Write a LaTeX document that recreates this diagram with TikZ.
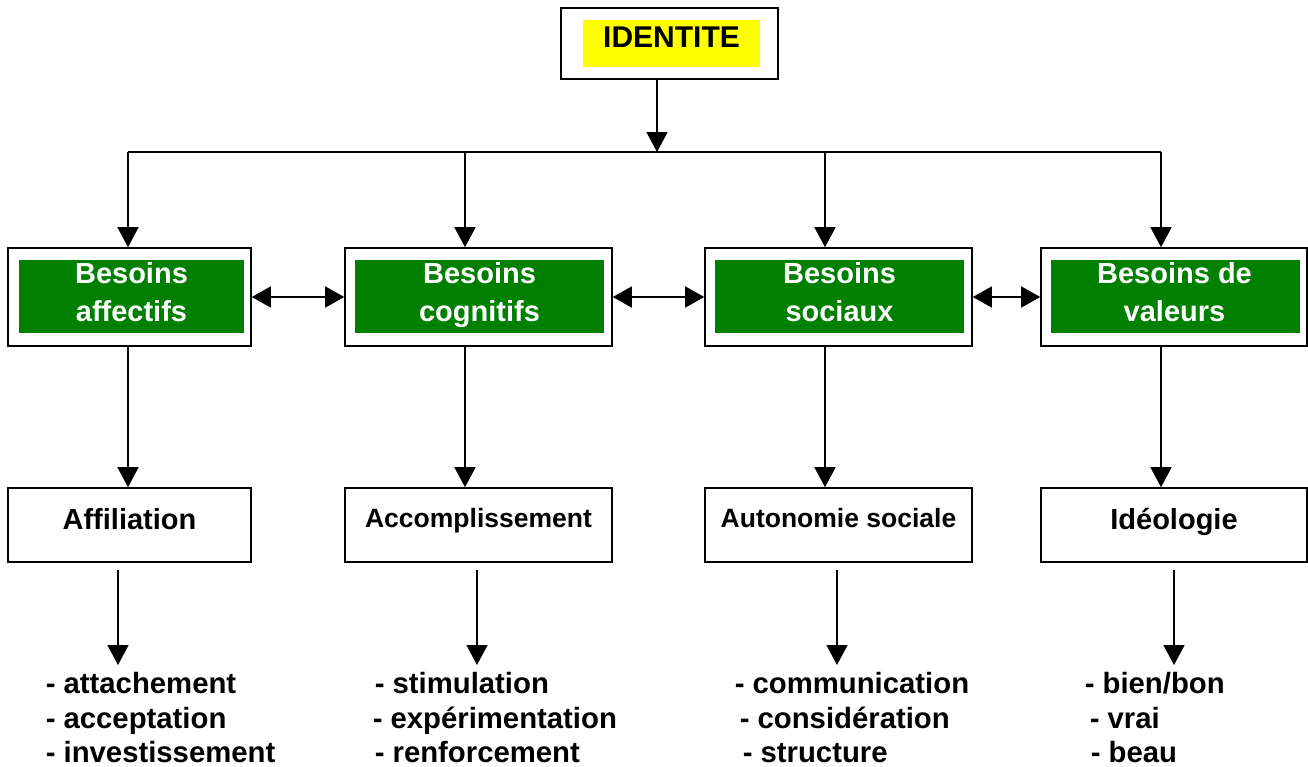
\documentclass[tikz,border=0pt]{standalone}
\usepackage{fontspec}
\setmainfont{Liberation Sans}
\usetikzlibrary{arrows.meta}
\definecolor{vert}{HTML}{008000}
\definecolor{jaune}{HTML}{FFFF00}
\begin{document}
\begin{tikzpicture}[x=1pt,y=-1pt,
  line width=1.5pt,
  tip/.style={-{Triangle[length=20pt,width=21pt]}},
  dtip/.style={{Triangle[length=19pt,width=21pt]}-{Triangle[length=19pt,width=21pt]}},
  outer/.style={draw, line width=1.6pt, inner sep=0pt, minimum height=98pt},
  greenbox/.style={fill=vert, inner sep=0pt, minimum height=73pt},
  gtext/.style={text=white, font=\fontsize{29}{38}\selectfont\bfseries, align=center, inner sep=0pt, anchor=north},
  lowbox/.style={draw, line width=1.6pt, inner sep=0pt, minimum height=74pt, text height=41pt, text depth=33pt, font=\fontsize{29}{34}\selectfont\bfseries},
  lowsmall/.style={lowbox, text height=39pt, text depth=35pt, font=\fontsize{26.5}{32}\selectfont\bfseries},
  item/.style={anchor=base west, inner sep=0pt, text depth=0pt, font=\fontsize{29.3}{34}\selectfont\bfseries}
]
\useasboundingbox[fill=white] (0,0) rectangle (1308,766);

% IDENTITE
\node[draw, line width=1.6pt, inner sep=0pt, minimum width=217pt, minimum height=71pt] (id) at (669.5,43.5) {};
\node[fill=jaune, inner sep=0pt, minimum width=177pt, text height=27.5pt, text depth=19.5pt, font=\fontsize{30}{36}\selectfont\bfseries] (idt) at (671.5,43.5) {IDENTITE};

% level 2 boxes
\node[outer, minimum width=243pt] (b1) at (129.5,297) {};
\node[outer, minimum width=267pt] (b2) at (478.5,297) {};
\node[outer, minimum width=267pt] (b3) at (838.5,297) {};
\node[outer, minimum width=266pt] (b4) at (1174,297) {};
\node[greenbox, minimum width=225pt] (g1) at (131.5,296.5) {};
\node[greenbox, minimum width=249pt] (g2) at (479.5,296.5) {};
\node[greenbox, minimum width=249pt] (g3) at (839.5,296.5) {};
\node[greenbox, minimum width=249pt] (g4) at (1175.5,296.5) {};
\node[gtext] (t1) at (131.5,262) {Besoins\\affectifs};
\node[gtext] (t2) at (479.5,262) {Besoins\\cognitifs};
\node[gtext] (t3) at (839.5,262) {Besoins\\sociaux};
\node[gtext] (t4) at (1174.5,262) {Besoins de\\valeurs};

% level 3 boxes
\node[lowbox, minimum width=243pt] (a1) at (129.5,525) {Affiliation};
\node[lowsmall, minimum width=267pt] (a2) at (478.5,525) {Accomplissement};
\node[lowsmall, minimum width=267pt] (a3) at (838.5,525) {Autonomie sociale};
\node[lowbox, minimum width=266pt] (a4) at (1174,525) {Idéologie};

% lists
\node[item] (l11) at (45,693) {- attachement};
\node[item] (l12) at (45,728) {- acceptation};
\node[item] (l13) at (45,762) {- investissement};
\node[item] (l21) at (374,693) {- stimulation};
\node[item] (l22) at (372,728) {- expérimentation};
\node[item] (l23) at (374,762) {- renforcement};
\node[item] (l31) at (734,693) {- communication};
\node[item] (l32) at (739,728) {- considération};
\node[item] (l33) at (742,762) {- structure};
\node[item] (l41) at (1084,693) {- bien/bon};
\node[item] (l42) at (1089,728) {- vrai};
\node[item] (l43) at (1090,762) {- beau};

% connector coordinates
\coordinate (hm) at (657,152);
\coordinate (h1) at (128,152);
\coordinate (h2) at (465,152);
\coordinate (h3) at (825,152);
\coordinate (h4) at (1161,152);
\coordinate (s1) at (118,570);
\coordinate (s2) at (477,570);
\coordinate (s3) at (837,570);
\coordinate (s4) at (1174,570);
\coordinate (e1) at (118,665);
\coordinate (e2) at (477,665);
\coordinate (e3) at (837,665);
\coordinate (e4) at (1174,665);

% connectors
\draw[tip] (id.south -| hm) -- (hm);
\draw (h1) -- (h4);
\foreach \i in {1,2,3,4}{
  \draw[tip] (h\i) -- (b\i.north -| h\i);
  \draw[tip] (b\i.south -| h\i) -- (a\i.north -| h\i);
  \draw[tip] (s\i) -- (e\i);
}
\draw[dtip] (b1.east) -- (b2.west);
\draw[dtip] (b2.east) -- (b3.west);
\draw[dtip] (b3.east) -- (b4.west);
\end{tikzpicture}
\end{document}
